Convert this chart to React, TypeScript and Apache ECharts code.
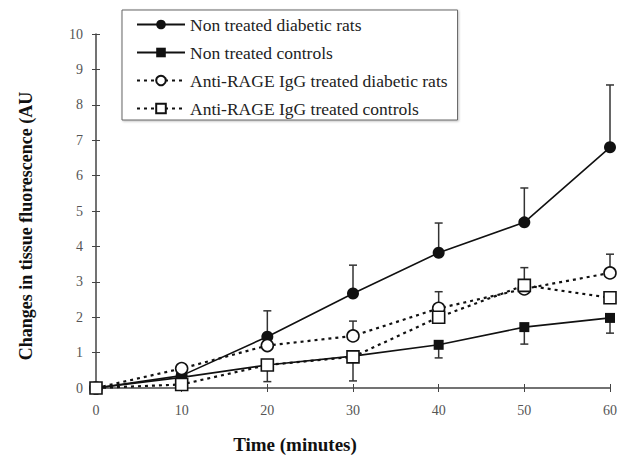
import React, { useEffect, useRef } from "react";
import * as echarts from "echarts";

const times = [0, 10, 20, 30, 40, 50, 60];
const xTicks = [0, 10, 20, 30, 40, 50, 60];
const seriesNames = [
  "Non treated diabetic rats",
  "Non treated controls",
  "Anti-RAGE IgG treated diabetic rats",
  "Anti-RAGE IgG treated controls",
];
const diabetic = [0, 0.35, 1.45, 2.67, 3.82, 4.68, 6.8];
const controls = [0, 0.3, 0.65, 0.9, 1.22, 1.72, 1.98];
const antiDiabetic = [0, 0.55, 1.2, 1.47, 2.25, 2.8, 3.25];
const antiControls = [0, 0.1, 0.65, 0.88, 2.0, 2.9, 2.55];
// error bar extents (up, down) per time point
const diabeticUp = [0, 0, 0.73, 0.8, 0.84, 0.97, 1.76];
const controlsDown = [0, 0, 0.47, 0.7, 0.37, 0.48, 0.43];
const antiDiabeticUp = [0, 0, 0, 0.42, 0.47, 0, 0.53];
const antiControlsUp = [0, 0, 0, 0, 0, 0.5, 0];

const FONT = "Liberation Serif";
const INK = "#111";

function errData(vals: number[], up: number[] | null, down: number[] | null) {
  return times.map((t, i) => [t, vals[i], up ? up[i] : 0, down ? down[i] : 0]);
}

export default function App() {
  const ref = useRef<HTMLDivElement>(null);
  useEffect(() => {
    if (!ref.current) return;
    const chart = echarts.init(ref.current, null, { renderer: "svg" });
    const errorItems = [
      ...errData(diabetic, diabeticUp, null),
      ...errData(controls, null, controlsDown),
      ...errData(antiDiabetic, antiDiabeticUp, null),
      ...errData(antiControls, antiControlsUp, null),
    ].filter((d) => d[2] > 0 || d[3] > 0);

    const renderErr = (params: any, api: any) => {
      const x = api.value(0);
      const y = api.value(1);
      const up = api.value(2);
      const down = api.value(3);
      const top = api.coord([x, y + up]);
      const bot = api.coord([x, y - down]);
      const children: any[] = [
        { type: "line", shape: { x1: top[0], y1: top[1], x2: bot[0], y2: bot[1] }, style: { stroke: "#333", lineWidth: 1.5 } },
      ];
      if (up > 0)
        children.push({ type: "line", shape: { x1: top[0] - 4, y1: top[1], x2: top[0] + 4, y2: top[1] }, style: { stroke: "#333", lineWidth: 1.5 } });
      if (down > 0)
        children.push({ type: "line", shape: { x1: bot[0] - 4, y1: bot[1], x2: bot[0] + 4, y2: bot[1] }, style: { stroke: "#333", lineWidth: 1.5 } });
      return { type: "group", children };
    };

    const mk = (name: string, vals: number[], symbol: string, size: number, dotted: boolean) => ({
      name,
      type: "line",
      data: times.map((t, i) => [t, vals[i]]),
      symbol,
      symbolSize: size,
      showAllSymbol: true,
      z: 3,
      lineStyle: { color: INK, width: dotted ? 2.2 : 1.6, type: dotted ? [3, 4] : "solid" },
      itemStyle: dotted
        ? { color: "#fff", borderColor: INK, borderWidth: 1.6 }
        : { color: INK, borderColor: INK, borderWidth: 0 },
    });

    chart.setOption({
      animation: false,
      backgroundColor: "#fff",
      grid: { left: 96, right: 21, top: 34, bottom: 74 },
      legend: {
        orient: "vertical",
        left: 122,
        top: 10,
        padding: [5, 10, 2, 14],
        itemWidth: 48,
        itemHeight: 12,
        itemGap: 9,
        borderColor: "#666",
        borderWidth: 1,
        backgroundColor: "#fff",
        shadowColor: "rgba(0,0,0,0.25)",
        shadowOffsetX: 1,
        shadowOffsetY: 1,
        shadowBlur: 2,
        textStyle: { fontFamily: FONT, fontSize: 17.5, color: "#222", lineHeight: 19 },
        data: seriesNames,
      },
      xAxis: [
        {
          type: "value",
          min: 0,
          max: 60,
          interval: 10,
          axisLine: { lineStyle: { color: "#444", width: 1.5 } },
          axisTick: { show: true, length: 4, lineStyle: { color: "#444" } },
          axisLabel: {
            fontFamily: FONT,
            fontSize: 14,
            color: "#555",
            margin: 15,
            formatter: (v: number) => (xTicks.includes(v) ? String(v) : ""),
          },
          splitLine: { show: false },
        },
        {
          type: "value",
          position: "bottom",
          min: 0,
          max: 60,
          interval: 10,
          axisLine: { show: false },
          axisTick: { show: true, inside: true, length: 4, lineStyle: { color: "#444" } },
          axisLabel: { show: false },
          splitLine: { show: false },
        },
      ],
      yAxis: [
        {
          type: "value",
          min: 0,
          max: 10,
          interval: 1,
          axisLine: { show: true, lineStyle: { color: "#444", width: 1.5 } },
          axisTick: { show: true, length: 4, lineStyle: { color: "#444" } },
          axisLabel: { fontFamily: FONT, fontSize: 14, color: "#555", margin: 13 },
          splitLine: { show: false },
        },
        {
          type: "value",
          position: "left",
          min: 0,
          max: 10,
          interval: 1,
          axisLine: { show: false },
          axisTick: { show: true, inside: true, length: 4, lineStyle: { color: "#444" } },
          axisLabel: { show: false },
          splitLine: { show: false },
        },
      ],
      graphic: [
        {
          type: "text",
          x: 26,
          y: 226,
          rotation: Math.PI / 2,
          style: {
            text: "Changes in tissue fluorescence (AU",
            fontFamily: FONT,
            fontWeight: "bold",
            fontSize: 18,
            fill: "#111",
            align: "center",
            verticalAlign: "middle",
          },
        },
        {
          type: "text",
          x: 295,
          y: 444,
          style: {
            text: "Time (minutes)",
            fontFamily: FONT,
            fontWeight: "bold",
            fontSize: 19,
            fill: "#111",
            align: "center",
            verticalAlign: "middle",
          },
        },
      ],
      series: [
        {
          name: "errors",
          type: "custom",
          renderItem: renderErr,
          data: errorItems,
          z: 1,
          silent: true,
        },
        mk(seriesNames[0], diabetic, "circle", 12, false),
        mk(seriesNames[1], controls, "rect", 10, false),
        mk(seriesNames[2], antiDiabetic, "circle", 12, true),
        mk(seriesNames[3], antiControls, "rect", 12, true),
      ],
    });
    return () => chart.dispose();
  }, []);
  return <div ref={ref} style={{ width: 631, height: 462, position: "absolute", left: 0, top: 0 }} />;
}
